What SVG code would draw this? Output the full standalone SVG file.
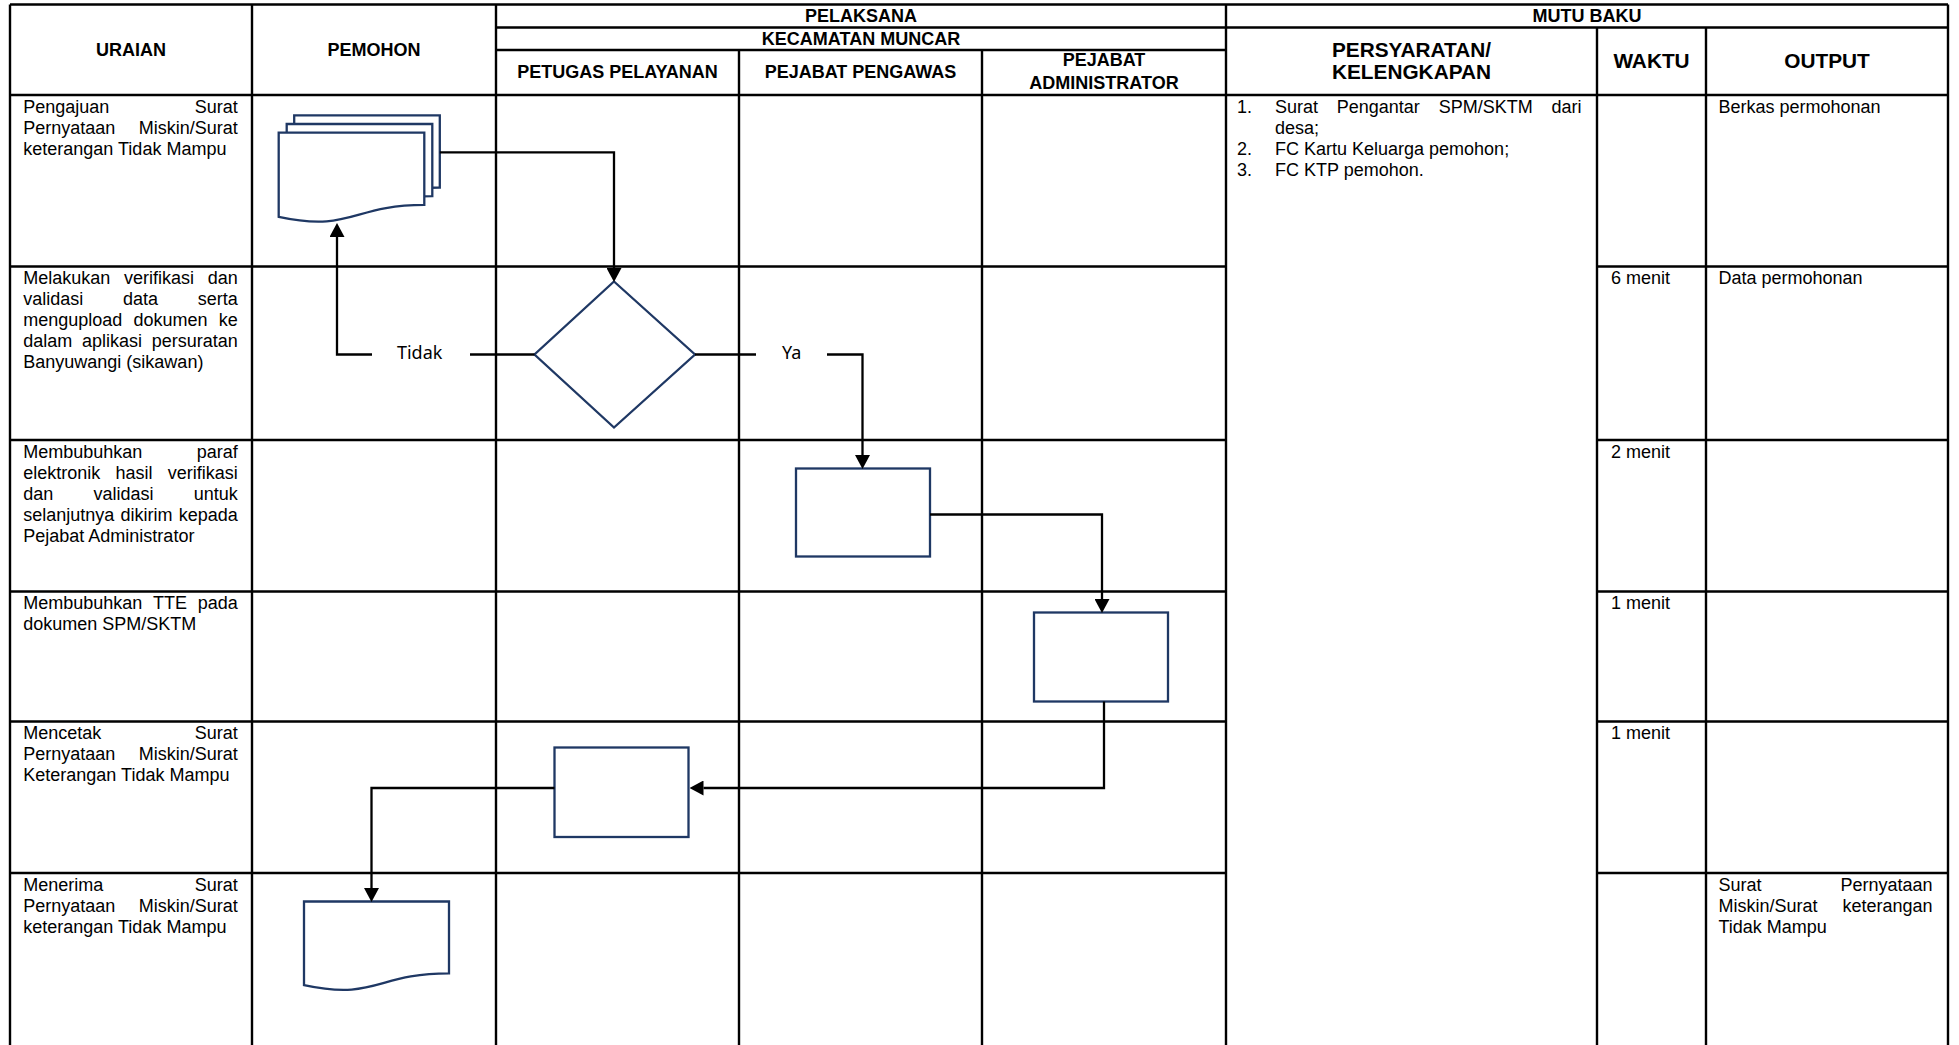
<svg xmlns="http://www.w3.org/2000/svg" width="1959" height="1045" viewBox="0 0 1959 1045">
  <style>
    .grid { fill: none; stroke: #000; stroke-width: 2.4; }
    .hd { font-family: "Liberation Sans", Arial, sans-serif; font-weight: bold; font-size: 18px; text-anchor: middle; fill: #000; }
    .hd2 { font-size: 20.8px; }
    .tx { font-family: "Liberation Sans", Arial, sans-serif; font-size: 18px; fill: #000; }
    .shape { fill: #fff; stroke: #1F3864; stroke-width: 2.3; }
    .conn { fill: none; stroke: #000; stroke-width: 2.3; }
    .lbl { font-family: "Noto Sans", "Liberation Sans", sans-serif; font-size: 18px; text-anchor: middle; fill: #000; }
  </style>
  <defs>
    <marker id="arrow" markerUnits="userSpaceOnUse" viewBox="0 0 14 15" refX="0" refY="7.5" markerWidth="14" markerHeight="15" orient="auto">
      <path d="M0,0 L14,7.5 L0,15 Z" fill="#000"/>
    </marker>
  </defs>

  <rect width="1959" height="1045" fill="#fff"/>

  <!-- table grid -->
  <g id="table-grid">
    <path class="grid" d="
      M10,4.5 H1948
      M496,27.5 H1948
      M496,50 H1226
      M10,95 H1948
      M10,266.5 H1226 M1597,266.5 H1948
      M10,440 H1226 M1597,440 H1948
      M10,591.5 H1226 M1597,591.5 H1948
      M10,721.5 H1226 M1597,721.5 H1948
      M10,873 H1226 M1597,873 H1948
      M10,4.5 V1045
      M252,4.5 V1045
      M496,4.5 V1045
      M739,50 V1045
      M982,50 V1045
      M1226,4.5 V1045
      M1597,27.5 V1045
      M1706,27.5 V1045
      M1948,4.5 V1045"/>
  </g>

  <!-- column headings -->
  <g id="table-header">
    <text class="hd" x="131" y="56.4">URAIAN</text>
    <text class="hd" x="374" y="56.4">PEMOHON</text>
    <text class="hd" x="861" y="22">PELAKSANA</text>
    <text class="hd" x="861" y="45">KECAMATAN MUNCAR</text>
    <text class="hd" x="617.5" y="78">PETUGAS PELAYANAN</text>
    <text class="hd" x="860.5" y="78">PEJABAT PENGAWAS</text>
    <text class="hd" x="1104" y="66.4">PEJABAT</text>
    <text class="hd" x="1104" y="89">ADMINISTRATOR</text>
    <text class="hd" x="1587" y="22">MUTU BAKU</text>
    <text class="hd hd2" x="1411.5" y="56.5">PERSYARATAN/</text>
    <text class="hd hd2" x="1411.5" y="79">KELENGKAPAN</text>
    <text class="hd hd2" x="1651.5" y="68">WAKTU</text>
    <text class="hd hd2" x="1827" y="68">OUTPUT</text>
  </g>

  <!-- step descriptions (URAIAN) -->
  <g id="uraian">
    <text class="tx" y="112.5"><tspan x="23.3">Pengajuan</tspan><tspan x="194.7">Surat</tspan></text>
    <text class="tx" y="133.5"><tspan x="23.3">Pernyataan</tspan><tspan x="138.7">Miskin/Surat</tspan></text>
    <text class="tx" x="23.3" y="154.5">keterangan Tidak Mampu</text>

    <text class="tx" y="284"><tspan x="23.3">Melakukan</tspan><tspan x="124">verifikasi</tspan><tspan x="207.7">dan</tspan></text>
    <text class="tx" y="305"><tspan x="23.3">validasi</tspan><tspan x="123">data</tspan><tspan x="197.7">serta</tspan></text>
    <text class="tx" y="326"><tspan x="23.3">mengupload</tspan><tspan x="133.5">dokumen</tspan><tspan x="218.7">ke</tspan></text>
    <text class="tx" y="347"><tspan x="23.3">dalam</tspan><tspan x="82">aplikasi</tspan><tspan x="151.7">persuratan</tspan></text>
    <text class="tx" x="23.3" y="368">Banyuwangi (sikawan)</text>

    <text class="tx" y="457.5"><tspan x="23.3">Membubuhkan</tspan><tspan x="196.7">paraf</tspan></text>
    <text class="tx" y="478.5"><tspan x="23.3">elektronik</tspan><tspan x="115.5">hasil</tspan><tspan x="167.7">verifikasi</tspan></text>
    <text class="tx" y="499.5"><tspan x="23.3">dan</tspan><tspan x="93.5">validasi</tspan><tspan x="193.7">untuk</tspan></text>
    <text class="tx" y="520.5"><tspan x="23.3">selanjutnya</tspan><tspan x="120.5">dikirim</tspan><tspan x="178.7">kepada</tspan></text>
    <text class="tx" x="23.3" y="541.5">Pejabat Administrator</text>

    <text class="tx" y="609"><tspan x="23.3">Membubuhkan</tspan><tspan x="153">TTE</tspan><tspan x="197.7">pada</tspan></text>
    <text class="tx" x="23.3" y="630">dokumen SPM/SKTM</text>

    <text class="tx" y="739"><tspan x="23.3">Mencetak</tspan><tspan x="194.7">Surat</tspan></text>
    <text class="tx" y="760"><tspan x="23.3">Pernyataan</tspan><tspan x="138.7">Miskin/Surat</tspan></text>
    <text class="tx" x="23.3" y="781">Keterangan Tidak Mampu</text>

    <text class="tx" y="890.5"><tspan x="23.3">Menerima</tspan><tspan x="194.7">Surat</tspan></text>
    <text class="tx" y="911.5"><tspan x="23.3">Pernyataan</tspan><tspan x="138.7">Miskin/Surat</tspan></text>
    <text class="tx" x="23.3" y="932.5">keterangan Tidak Mampu</text>
  </g>

  <!-- requirements list -->
  <g id="persyaratan">
    <text class="tx" x="1237" y="112.5">1.</text>
    <text class="tx" y="112.5"><tspan x="1275">Surat</tspan><tspan x="1336.8">Pengantar</tspan><tspan x="1438.7">SPM/SKTM</tspan><tspan x="1551.5">dari</tspan></text>
    <text class="tx" x="1275" y="133.5">desa;</text>
    <text class="tx" x="1237" y="154.5">2.</text>
    <text class="tx" x="1275" y="154.5">FC Kartu Keluarga pemohon;</text>
    <text class="tx" x="1237" y="175.5">3.</text>
    <text class="tx" x="1275" y="175.5">FC KTP pemohon.</text>
  </g>

  <!-- time per step -->
  <g id="waktu">
    <text class="tx" x="1611" y="284">6 menit</text>
    <text class="tx" x="1611" y="457.5">2 menit</text>
    <text class="tx" x="1611" y="609">1 menit</text>
    <text class="tx" x="1611" y="739">1 menit</text>
  </g>

  <!-- output per step -->
  <g id="output">
    <text class="tx" x="1718.5" y="112.5">Berkas permohonan</text>
    <text class="tx" x="1718.5" y="284">Data permohonan</text>
    <text class="tx" y="890.5"><tspan x="1718.5">Surat</tspan><tspan x="1840.4">Pernyataan</tspan></text>
    <text class="tx" y="911.5"><tspan x="1718.5">Miskin/Surat</tspan><tspan x="1842.4">keterangan</tspan></text>
    <text class="tx" x="1718.5" y="932.5">Tidak Mampu</text>
  </g>

  <!-- flow nodes -->
  <g id="node-pengajuan">
    <path class="shape" d="M294.2,115.3 H439.8 V187.5 C367,187.5 367,215 294.2,199.4 Z"/>
    <path class="shape" d="M286.7,124 H432.3 V196.2 C359.5,196.2 359.5,223.7 286.7,208.1 Z"/>
    <path class="shape" d="M278.7,132.7 H424.3 V204.9 C351.5,204.9 351.5,232.4 278.7,216.8 Z"/>
  </g>
  <g id="node-verifikasi">
    <path class="shape" d="M614,281.5 L695,354.5 L614,427.5 L534.5,354.5 Z"/>
  </g>
  <g id="node-paraf">
    <rect class="shape" x="796" y="468.5" width="134" height="88"/>
  </g>
  <g id="node-tte">
    <rect class="shape" x="1034" y="612.5" width="134" height="89"/>
  </g>
  <g id="node-cetak">
    <rect class="shape" x="554.5" y="747.5" width="134" height="89.5"/>
  </g>
  <g id="node-terima">
    <path class="shape" d="M304,901.5 H449 V973.3 C376.5,973.3 376.5,1000.6 304,985.1 Z"/>
  </g>

  <!-- connectors -->
  <g id="connectors">
    <path class="conn" d="M439.8,152.3 H614 V268" marker-end="url(#arrow)"/>
    <path class="conn" d="M534.5,354.5 H470"/>
    <path class="conn" d="M372,354.5 H337 V237" marker-end="url(#arrow)"/>
    <text class="lbl" x="419.7" y="359">Tidak</text>
    <path class="conn" d="M695,354.5 H756"/>
    <path class="conn" d="M827,354.5 H862.5 V455" marker-end="url(#arrow)"/>
    <text class="lbl" x="791.7" y="359">Ya</text>
    <path class="conn" d="M930,514.5 H1102 V599" marker-end="url(#arrow)"/>
    <path class="conn" d="M1104,701.5 V788 H703.5" marker-end="url(#arrow)"/>
    <path class="conn" d="M554.5,788 H371.5 V888" marker-end="url(#arrow)"/>
  </g>
</svg>
